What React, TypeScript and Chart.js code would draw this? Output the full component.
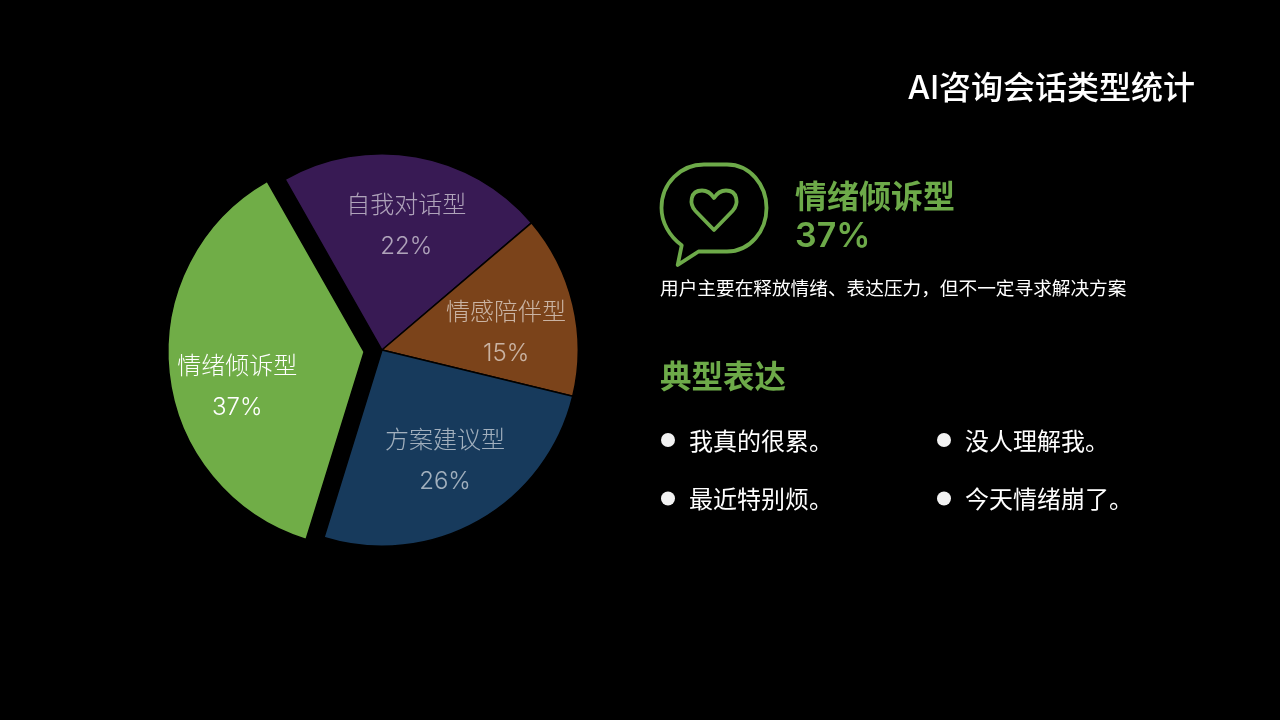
import React, { useEffect, useRef } from "react";
import { Chart, registerables } from "chart.js";

Chart.register(...registerables);

const categories = ["自我对话型", "情感陪伴型", "方案建议型", "情绪倾诉型"];
const shares = [22, 15, 26, 37];
const sliceColors = ["#381A54", "#7B431A", "#173A5C", "#70AD47"];
const labelColors = ["rgba(255,255,255,0.6)", "rgba(255,255,255,0.6)", "rgba(255,255,255,0.6)", "#FFFFFF"];
const sliceShifts = [0, 0, 0, 18];
const labelNudgeX = [2, 0, 0, 0];
const labelNudgeY = [1, 12, 0, 21];

const chartTitle = "AI咨询会话类型统计";
const focusName = "情绪倾诉型";
const focusShare = "37%";
const focusNote = "用户主要在释放情绪、表达压力\uFF0C但不一定寻求解决方案";
const quotesHeading = "典型表达";
const quotes = [
  { text: "我真的很累。", left: 660, top: 440 },
  { text: "没人理解我。", left: 936, top: 440 },
  { text: "最近特别烦。", left: 660, top: 498.5 },
  { text: "今天情绪崩了。", left: 936, top: 498.5 },
];

const FONT = 'Inter, "Noto Sans CJK SC", "Noto Sans", sans-serif';
const GREEN = "#6DAA49";

const explodeSlices = {
  id: "explodeSlices",
  afterDatasetsUpdate(chart: any) {
    chart.getDatasetMeta(0).data.forEach((arc: any, i: number) => {
      const mid = (arc.startAngle + arc.endAngle) / 2;
      arc.x += Math.cos(mid) * sliceShifts[i];
      arc.y += Math.sin(mid) * sliceShifts[i];
    });
  },
};

const sliceLabels = {
  id: "sliceLabels",
  afterDatasetsDraw(chart: any) {
    const { ctx } = chart;
    const arcs = chart.getDatasetMeta(0).data;
    ctx.save();
    ctx.textAlign = "center";
    ctx.textBaseline = "middle";
    arcs.forEach((arc: any, i: number) => {
      const mid = (arc.startAngle + arc.endAngle) / 2;
      const dist = arc.outerRadius * 0.65;
      const x = arc.x + Math.cos(mid) * dist + labelNudgeX[i];
      const y = arc.y + Math.sin(mid) * dist + labelNudgeY[i];
      ctx.fillStyle = labelColors[i];
      ctx.font = `300 24px ${FONT}`;
      ctx.fillText(categories[i], x, y - 20);
      ctx.fillText(`${shares[i]}%`, x, y + 21);
    });
    ctx.restore();
  },
};

function Text({ children, left, top, right, size, weight, color }: any) {
  return (
    <div
      style={{
        position: "absolute",
        left,
        right,
        top,
        transform: "translateY(-50%)",
        fontFamily: FONT,
        fontSize: size,
        fontWeight: weight,
        color,
        lineHeight: 1,
        whiteSpace: "nowrap",
      }}
    >
      {children}
    </div>
  );
}

export default function App() {
  const ref = useRef<HTMLCanvasElement>(null);
  useEffect(() => {
    const chart = new Chart(ref.current!, {
      type: "pie",
      data: {
        labels: categories,
        datasets: [
          {
            data: shares,
            backgroundColor: sliceColors,
            borderColor: "#000000",
            borderWidth: 1.5,
          },
        ],
      },
      options: {
        animation: false,
        responsive: false,
        rotation: -29.6,
        layout: { padding: { left: 185, right: 701, top: 153, bottom: 173 } },
        plugins: { legend: { display: false }, tooltip: { enabled: false }, title: { display: false } },
      },
      plugins: [explodeSlices, sliceLabels],
    } as any);
    return () => chart.destroy();
  }, []);

  return (
    <div style={{ position: "fixed", left: 0, top: 0, width: 1280, height: 720, background: "#000", overflow: "hidden" }}>
      <canvas ref={ref} width={1280} height={720} style={{ position: "absolute", left: 0, top: 0 }} />
      <Text right={85} top={88} size={32} weight={500} color="#FFFFFF">{chartTitle}</Text>
      <svg width={1280} height={720} style={{ position: "absolute", left: 0, top: 0 }}>
        <path
          d="M681.7 245.3 C669 236 661.5 222 661.5 208 C661.5 183 681 164.5 704 164.5 L727 164.5 C750 164.5 766.5 185 766.5 208 C766.5 231 750 251.5 727 251.5 L698.5 251.5 L677.7 265 Z"
          fill="none"
          stroke={GREEN}
          strokeWidth={3.8}
          strokeLinejoin="round"
        />
        <path
          d="M714 230 L695.5 211 C689 204 690 190.5 702 190.5 C708 190.5 711.5 194 714 198 C716.5 194 720 190.5 726 190.5 C738 190.5 739 204 732.5 211 Z"
          fill="none"
          stroke={GREEN}
          strokeWidth={3.8}
          strokeLinejoin="round"
        />
        {quotes.map((q) => (
          <circle key={q.text} cx={q.left + 8} cy={q.top} r={7} fill="#F2F2F2" />
        ))}
      </svg>
      <Text left={795} top={197} size={32} weight={700} color={GREEN}>{focusName}</Text>
      <Text left={795} top={235} size={34} weight={600} color={GREEN}>{focusShare}</Text>
      <Text left={660} top={289} size={18.67} weight={400} color="#FFFFFF">{focusNote}</Text>
      <Text left={660} top={377} size={31.5} weight={700} color={GREEN}>{quotesHeading}</Text>
      {quotes.map((q) => (
        <Text key={q.text} left={q.left + 29} top={q.top + 1.5} size={24} weight={400} color="#FFFFFF">{q.text}</Text>
      ))}
    </div>
  );
}
